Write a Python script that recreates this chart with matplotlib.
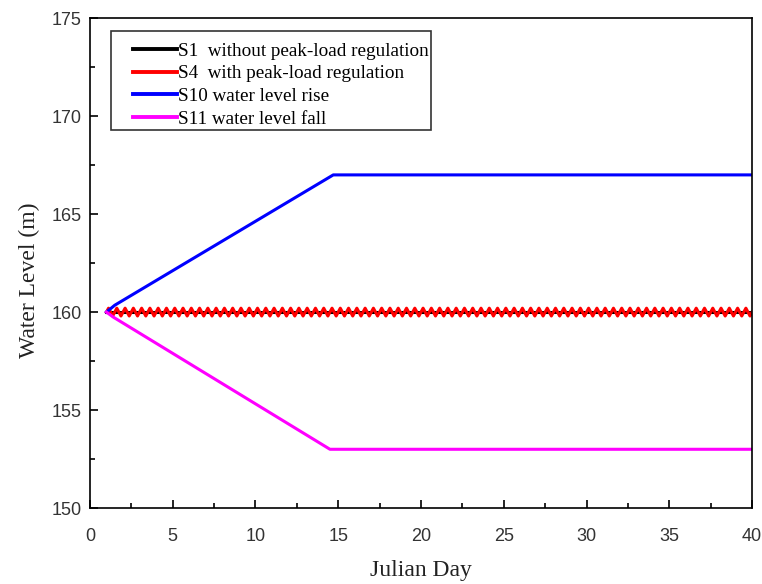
import numpy as np
import matplotlib.pyplot as plt
from matplotlib.ticker import MultipleLocator
from matplotlib.lines import Line2D
from matplotlib.legend_handler import HandlerLine2D

# 数据
# S1: 无调峰，恒定水位
s1_days = [1.0, 40.0]
s1_level = [160.0, 160.0]

# S4: 调峰，半天一个周期的小幅波动（一个周期读取的数值，每 0.125 天一个点）
s4_cycle = [160.0, 160.2, 160.0, 159.8]
s4_days = np.arange(1.0, 40.001, 0.125)
s4_level = np.tile(s4_cycle, len(s4_days) // len(s4_cycle) + 1)[:len(s4_days)]

# S10: 水位上升
s10_days = [1.0, 1.5, 14.7, 40.0]
s10_level = [160.0, 160.35, 167.0, 167.0]

# S11: 水位下降
s11_days = [1.0, 1.4, 14.5, 40.0]
s11_level = [160.0, 159.75, 153.0, 153.0]

serif = ['Liberation Serif', 'DejaVu Serif']
sans = ['Liberation Sans', 'DejaVu Sans']

fig = plt.figure(figsize=(7.62, 5.84), dpi=100)
ax = fig.add_axes([0.118, 0.130, 0.869, 0.839])

ax.plot(s1_days, s1_level, color='black', lw=2.2, label='S1  without peak-load regulation')
ax.plot(s4_days, s4_level, color='#ff0000', lw=2.2, label='S4  with peak-load regulation')
ax.plot(s10_days, s10_level, color='#0000ff', lw=2.2, label='S10 water level rise')
ax.plot(s11_days, s11_level, color='#ff00ff', lw=2.2, label='S11 water level fall')

ax.set_xlim(0, 40)
ax.set_ylim(150, 175)
ax.xaxis.set_major_locator(MultipleLocator(5))
ax.xaxis.set_minor_locator(MultipleLocator(2.5))
ax.yaxis.set_major_locator(MultipleLocator(5))
ax.yaxis.set_minor_locator(MultipleLocator(2.5))
ax.tick_params(which='both', direction='in', top=False, right=False, width=1.2, colors='black')
ax.tick_params(which='major', length=6, labelsize=13)
ax.tick_params(which='minor', length=3.5)
ax.tick_params(axis='x', which='major', pad=14)
ax.tick_params(axis='y', which='major', pad=6)
for lbl in ax.get_xticklabels() + ax.get_yticklabels():
    lbl.set_family(sans)
    lbl.set_color('#333333')
for sp in ax.spines.values():
    sp.set_linewidth(1.2)

ax.set_xlabel('Julian Day', family=serif, fontsize=17, color='#222222', labelpad=11)
ax.set_ylabel('Water Level (m)', family=serif, fontsize=17, color='#222222', labelpad=8)
ax.yaxis.label.set_y(0.465)

# 图例：句柄线向右缩进，顶部用空标题留一点空隙
leg = ax.legend(loc='upper left', bbox_to_anchor=(0.0317, 0.974), prop={'family': serif, 'size': 13.8},
                frameon=True, fancybox=False, edgecolor='black', handlelength=3.35,
                handletextpad=0.05, labelspacing=0.28, borderpad=0.1, borderaxespad=0,
                title=' ', title_fontsize=2,
                handler_map={Line2D: HandlerLine2D(xpad=1.05)})
leg.get_frame().set_linewidth(1.2)
for h in leg.get_lines():
    h.set_linewidth(2.8)

plt.savefig('out.png', dpi=100)
